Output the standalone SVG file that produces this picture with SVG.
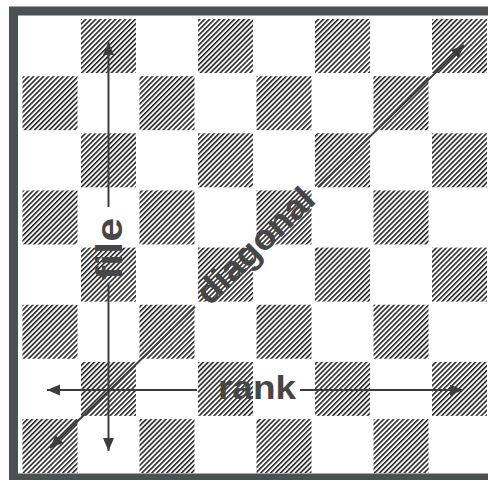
<svg xmlns="http://www.w3.org/2000/svg" width="488" height="480" viewBox="0 0 488 480">
  <style>
    .dark { fill: url(#hatch); }
    .conn { stroke: #3c3c3c; stroke-width: 2; fill: none; marker-end: url(#arrow); }
    .lbl { font-family: "Liberation Sans", Arial, sans-serif; font-weight: bold; fill: #464646; }
  </style>
  <defs>
    <pattern id="hatch" patternUnits="userSpaceOnUse" width="3.5" height="12" patternTransform="rotate(45)">
      <rect x="0" y="0" width="1.6" height="12" fill="#262626"/>
    </pattern>
    <marker id="arrow" markerUnits="userSpaceOnUse" markerWidth="15" markerHeight="12" refX="13" refY="5.5" orient="auto">
      <path d="M0,0 L13,5.5 L0,11 Z" fill="#3c3c3c"/>
    </marker>
  </defs>
  <rect x="0" y="0" width="488" height="480" fill="#ffffff"/>
  <g id="board">
    <rect x="13.5" y="11" width="490" height="467" fill="#ffffff" stroke="#4b5050" stroke-width="9"/>
    <g id="squares">
      <rect class="dark" x="81" y="19" width="55" height="54"/>
      <rect class="dark" x="198" y="19" width="55" height="54"/>
      <rect class="dark" x="315" y="19" width="55" height="54"/>
      <rect class="dark" x="432" y="19" width="55" height="54"/>
      <rect class="dark" x="22.5" y="76.15" width="55" height="54"/>
      <rect class="dark" x="139.5" y="76.15" width="55" height="54"/>
      <rect class="dark" x="256.5" y="76.15" width="55" height="54"/>
      <rect class="dark" x="373.5" y="76.15" width="55" height="54"/>
      <rect class="dark" x="81" y="133.3" width="55" height="54"/>
      <rect class="dark" x="198" y="133.3" width="55" height="54"/>
      <rect class="dark" x="315" y="133.3" width="55" height="54"/>
      <rect class="dark" x="432" y="133.3" width="55" height="54"/>
      <rect class="dark" x="22.5" y="190.45" width="55" height="54"/>
      <rect class="dark" x="139.5" y="190.45" width="55" height="54"/>
      <rect class="dark" x="256.5" y="190.45" width="55" height="54"/>
      <rect class="dark" x="373.5" y="190.45" width="55" height="54"/>
      <rect class="dark" x="81" y="247.6" width="55" height="54"/>
      <rect class="dark" x="198" y="247.6" width="55" height="54"/>
      <rect class="dark" x="315" y="247.6" width="55" height="54"/>
      <rect class="dark" x="432" y="247.6" width="55" height="54"/>
      <rect class="dark" x="22.5" y="304.75" width="55" height="54"/>
      <rect class="dark" x="139.5" y="304.75" width="55" height="54"/>
      <rect class="dark" x="256.5" y="304.75" width="55" height="54"/>
      <rect class="dark" x="373.5" y="304.75" width="55" height="54"/>
      <rect class="dark" x="81" y="361.9" width="55" height="54"/>
      <rect class="dark" x="198" y="361.9" width="55" height="54"/>
      <rect class="dark" x="315" y="361.9" width="55" height="54"/>
      <rect class="dark" x="432" y="361.9" width="55" height="54"/>
      <rect class="dark" x="22.5" y="419.05" width="55" height="54"/>
      <rect class="dark" x="139.5" y="419.05" width="55" height="54"/>
      <rect class="dark" x="256.5" y="419.05" width="55" height="54"/>
      <rect class="dark" x="373.5" y="419.05" width="55" height="54"/>
    </g>
  </g>
  <g id="connectors">
    <line class="conn" x1="108.5" y1="207" x2="108.5" y2="42"/>
    <line class="conn" x1="108.5" y1="283" x2="108.5" y2="451"/>
    <line class="conn" x1="197" y1="390" x2="47" y2="390"/>
    <line class="conn" x1="300" y1="390" x2="463" y2="390"/>
    <line class="conn" x1="195" y1="306.9" x2="50" y2="448"/>
    <line class="conn" x1="318" y1="187.1" x2="464" y2="45"/>
  </g>
  <g id="labels">
    <g id="file"><text class="lbl" font-size="37" text-anchor="middle" textLength="62" lengthAdjust="spacingAndGlyphs" transform="translate(122,249) rotate(-90)">file</text></g>
    <g id="rank"><text class="lbl" font-size="33" x="218" y="399" textLength="78" lengthAdjust="spacingAndGlyphs">rank</text></g>
    <g id="diagonal"><text class="lbl" font-size="35" text-anchor="middle" textLength="150" lengthAdjust="spacingAndGlyphs" transform="translate(263.5,254.2) rotate(-44.23)">diagonal</text></g>
  </g>
</svg>
